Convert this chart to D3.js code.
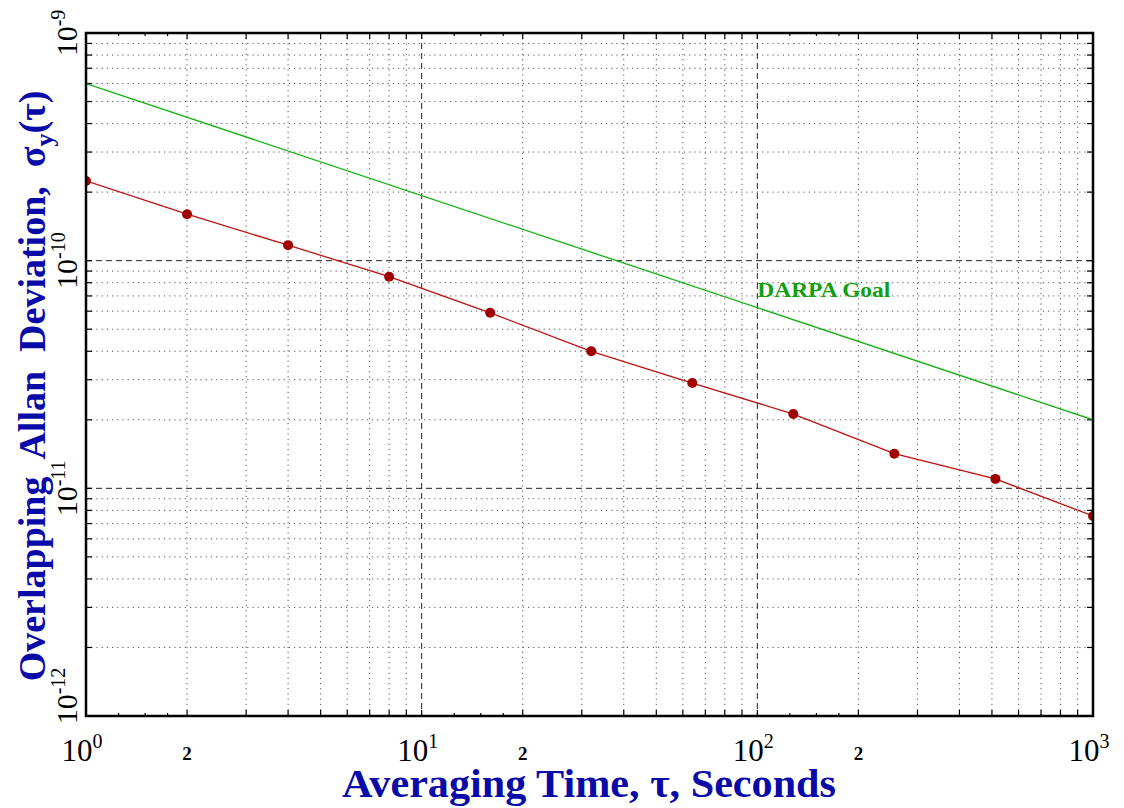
<!DOCTYPE html>
<html>
<head>
<meta charset="utf-8">
<script src="https://cdn.jsdelivr.net/npm/d3@7"></script>
<style>
  body { margin: 0; background: #fff; }
  svg { display: block; }
</style>
</head>
<body>
<script>
const width = 1124;
const height = 808;

// measured data: octave averaging times
const tau = [1, 2, 4, 8, 16, 32, 64, 128, 256, 512, 1000];
const adev = [2.24e-10, 1.6e-10, 1.17e-10, 8.5e-11, 5.9e-11, 4.0e-11, 2.9e-11, 2.12e-11, 1.42e-11, 1.1e-11, 7.56e-12];

// DARPA goal line endpoints
const goalTau = [1, 1000];
const goalDev = [6.0e-10, 2.0e-11];

const xDecades = [1, 10, 100, 1000];
const yDecades = [1e-12, 1e-11, 1e-10, 1e-9];

let margin = { top: 33, right: 31, bottom: 92, left: 86 };

let svg = d3
  .select("body")
  .append("svg")
  .attr("width", width)
  .attr("height", height);

let x = d3
  .scaleLog()
  .domain([1, 1000])
  .range([margin.left, width - margin.right]);

let y = d3
  .scaleLog()
  .domain([1e-12, 1e-9])
  .range([height - margin.bottom, margin.top]);

const x0 = x.range()[0], x1 = x.range()[1];
const y0 = y.range()[1], y1 = y.range()[0];

// minor values 2..9 in each decade
let xMinor = [];
xDecades.slice(0, -1).forEach((d) => {
  for (let k = 2; k <= 9; k++) xMinor.push(d * k);
});
let yMinor = [];
yDecades.slice(0, -1).forEach((d) => {
  for (let k = 2; k <= 9; k++) yMinor.push(d * k);
});
let xSub = [];
xDecades.slice(0, -1).forEach((d) => {
  [1.25, 1.5, 1.75].forEach((k) => xSub.push(d * k));
});

let grid = svg.append("g").attr("id", "grid");

// dotted minor grid
grid
  .selectAll(".vminor")
  .data(xMinor)
  .join("line")
  .attr("x1", (d) => x(d))
  .attr("x2", (d) => x(d))
  .attr("y1", y0)
  .attr("y2", y1)
  .attr("stroke", "#555")
  .attr("stroke-width", 1)
  .attr("stroke-dasharray", "1.2,4");

grid
  .selectAll(".hminor")
  .data(yMinor)
  .join("line")
  .attr("x1", x0)
  .attr("x2", x1)
  .attr("y1", (d) => y(d))
  .attr("y2", (d) => y(d))
  .attr("stroke", "#555")
  .attr("stroke-width", 1)
  .attr("stroke-dasharray", "1.2,4");

// dashed decade grid
grid
  .selectAll(".vmajor")
  .data(xDecades.slice(1, -1))
  .join("line")
  .attr("x1", (d) => x(d))
  .attr("x2", (d) => x(d))
  .attr("y1", y0)
  .attr("y2", y1)
  .attr("stroke", "#222")
  .attr("stroke-width", 1)
  .attr("stroke-dasharray", "6,4");

grid
  .selectAll(".hmajor")
  .data(yDecades.slice(1, -1))
  .join("line")
  .attr("x1", x0)
  .attr("x2", x1)
  .attr("y1", (d) => y(d))
  .attr("y2", (d) => y(d))
  .attr("stroke", "#222")
  .attr("stroke-width", 1)
  .attr("stroke-dasharray", "6,4");

// inward ticks on all four sides
let ticks = svg.append("g").attr("stroke", "#000").attr("stroke-width", 1.2);
const tl = 6, ts = 3;
[[y1, -1], [y0, 1]].forEach(([yy, dir]) => {
  ticks.selectAll(null).data(xMinor.concat(xDecades)).join("line")
    .attr("x1", (d) => x(d)).attr("x2", (d) => x(d))
    .attr("y1", yy).attr("y2", yy + dir * tl);
  ticks.selectAll(null).data(xSub).join("line")
    .attr("x1", (d) => x(d)).attr("x2", (d) => x(d))
    .attr("y1", yy).attr("y2", yy + dir * ts);
});
[[x0, 1], [x1, -1]].forEach(([xx, dir]) => {
  ticks.selectAll(null).data(yMinor.concat(yDecades)).join("line")
    .attr("y1", (d) => y(d)).attr("y2", (d) => y(d))
    .attr("x1", xx).attr("x2", xx + dir * tl);
});

// clip for the data
svg.append("clipPath").attr("id", "plot-clip")
  .append("rect")
  .attr("x", x0).attr("y", y0)
  .attr("width", x1 - x0).attr("height", y1 - y0);

let plot = svg.append("g").attr("clip-path", "url(#plot-clip)");

let line = d3.line().x((d) => x(d[0])).y((d) => y(d[1]));

plot.append("path")
  .datum(d3.zip(goalTau, goalDev))
  .attr("d", line)
  .attr("fill", "none")
  .attr("stroke", "#10b010")
  .attr("stroke-width", 1.3);

let measured = d3.zip(tau, adev);

plot.append("path")
  .datum(measured)
  .attr("d", line)
  .attr("fill", "none")
  .attr("stroke", "#c01010")
  .attr("stroke-width", 1.3);

plot.selectAll("circle")
  .data(measured)
  .join("circle")
  .attr("cx", (d) => x(d[0]))
  .attr("cy", (d) => y(d[1]))
  .attr("r", 5)
  .attr("fill", "#a00000");

// frame
svg.append("rect")
  .attr("x", x0).attr("y", y0)
  .attr("width", x1 - x0).attr("height", y1 - y0)
  .attr("fill", "none")
  .attr("stroke", "#000")
  .attr("stroke-width", 2.5);

const serif = "'Liberation Serif', 'DejaVu Serif', serif";

// x tick labels
let xl = svg.append("g").attr("font-family", serif).attr("fill", "#000");
xDecades.forEach((d) => {
  let t = xl.append("text")
    .attr("x", x(d) - 4)
    .attr("y", 761)
    .attr("text-anchor", "middle")
    .attr("font-size", 31);
  t.append("tspan").text("10");
  t.append("tspan")
    .attr("font-size", 20)
    .attr("dy", -13)
    .text(Math.round(Math.log10(d)));
});
xDecades.slice(0, -1).forEach((d) => {
  xl.append("text")
    .attr("x", x(d * 2))
    .attr("y", 760)
    .attr("text-anchor", "middle")
    .attr("font-size", 19)
    .attr("font-weight", "bold")
    .text("2");
});

// y tick labels, rotated
let yl = svg.append("g").attr("font-family", serif).attr("fill", "#000");
yDecades.forEach((d) => {
  let cy = Math.min(y(d), y1 - 20);
  let t = yl.append("text")
    .attr("transform", `translate(77, ${cy}) rotate(-90)`)
    .attr("text-anchor", "middle")
    .attr("font-size", 30);
  t.append("tspan").text("10");
  t.append("tspan")
    .attr("font-size", 20)
    .attr("dy", -12)
    .text(Math.round(Math.log10(d)).toString());
});

// series label
svg.append("text")
  .attr("x", x(100))
  .attr("y", 297)
  .attr("font-family", serif)
  .attr("font-weight", "bold")
  .attr("font-size", 21)
  .attr("fill", "#10a010")
  .attr("textLength", 133)
  .attr("lengthAdjust", "spacingAndGlyphs")
  .text("DARPA Goal");

// axis titles
const blue = "#0a0aa8";
svg.append("text")
  .attr("x", 589)
  .attr("y", 797)
  .attr("text-anchor", "middle")
  .attr("font-family", serif)
  .attr("font-weight", "bold")
  .attr("font-size", 39)
  .attr("fill", blue)
  .attr("textLength", 494)
  .attr("lengthAdjust", "spacingAndGlyphs")
  .text("Averaging Time, \u03c4, Seconds");

let yt = svg.append("text")
  .attr("transform", `translate(45, 386) rotate(-90)`)
  .attr("text-anchor", "middle")
  .attr("font-family", serif)
  .attr("font-weight", "bold")
  .attr("font-size", 38)
  .attr("fill", blue)
  .attr("xml:space", "preserve");
yt.append("tspan").text("Overlapping  Allan  Deviation,  \u03c3");
yt.append("tspan").attr("font-size", 26).attr("dy", 8).text("y");
yt.append("tspan").attr("dy", -8).text("(\u03c4)");
</script>
</body>
</html>
